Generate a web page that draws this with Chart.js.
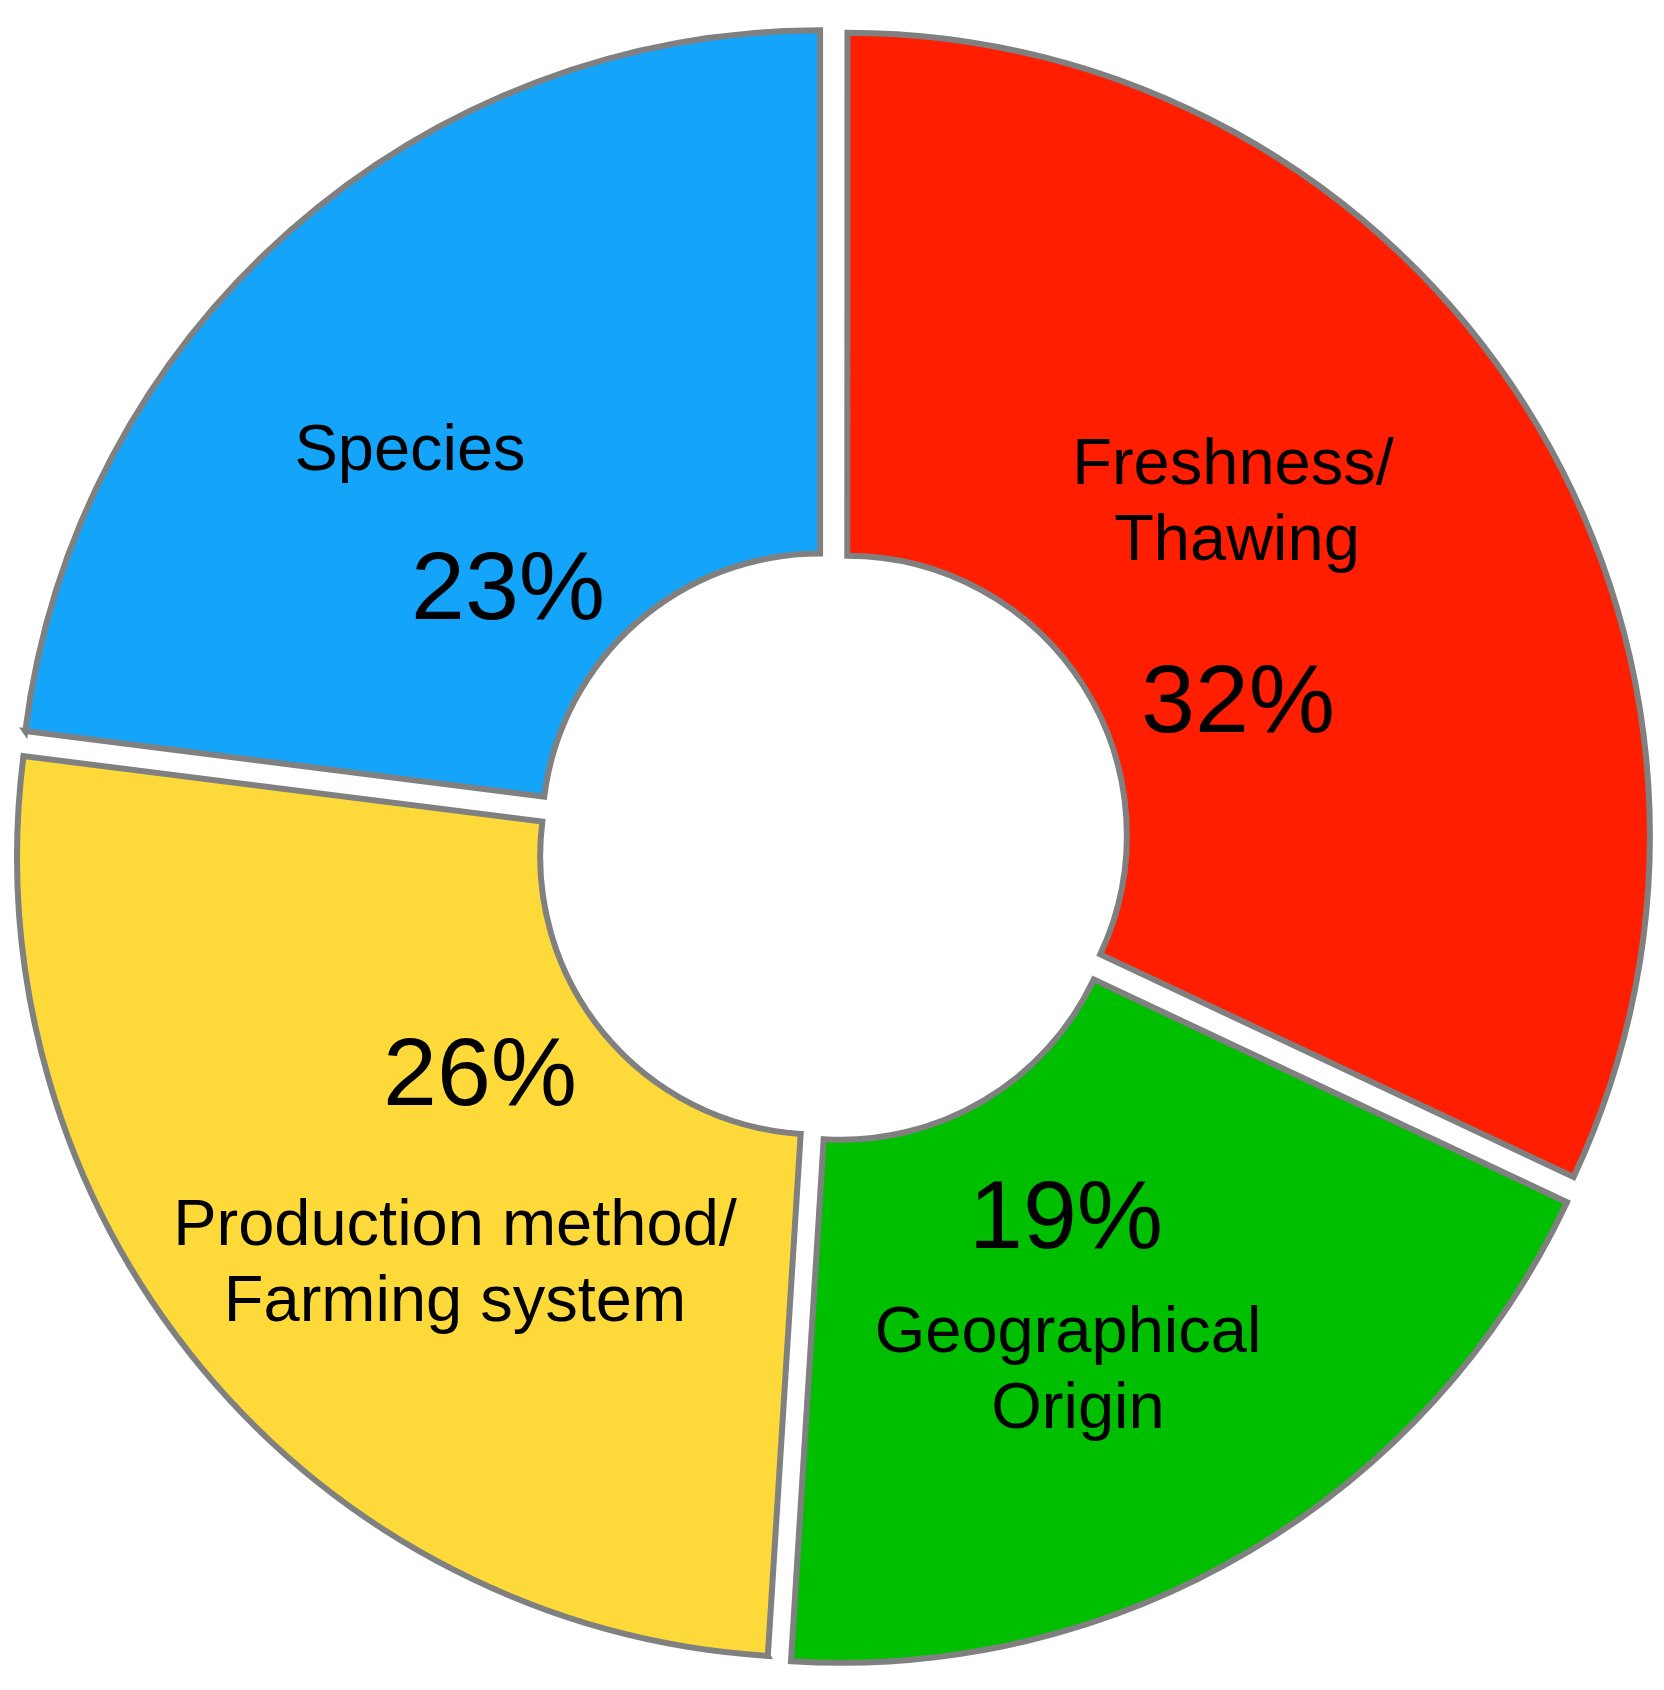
<!DOCTYPE html>
<html>
<head>
<meta charset="utf-8">
<script src="https://cdn.jsdelivr.net/npm/chart.js@4.4.1/dist/chart.umd.min.js"></script>
<style>
  html, body { margin: 0; padding: 0; background: #ffffff; }
  #wrap { width: 1664px; height: 1690px; }
</style>
</head>
<body>
<div id="wrap"><canvas id="c" width="1664" height="1690"></canvas></div>
<script>
// ---- data ----
const categories = ['Freshness/Thawing', 'Geographical Origin', 'Production method/Farming system', 'Species'];
const labelLines = [['Freshness/', 'Thawing'], ['Geographical', 'Origin'], ['Production method/', 'Farming system'], ['Species']];
const shares = [32, 19, 26, 23];
const pctLabels = shares.map(v => v + '%');

// ---- styles ----
const sliceColors = ['#FF1E00', '#00BE00', '#FDDA3A', '#14A5FA'];
// label placement relative to the chart centre: [nameX, nameBaselineY, pctX, pctBaselineY]
const labelLayout = [
  [401, -361, 406, -113],
  [236, 507, 234, 403],
  [-377, 400, -352, 260],
  [-422, -375, -324, -226]
];
// horizontal nudge of each name line
const lineNudge = [[0, 4], [0, 10], [0, 0], [0]];
const nameFont = '65px "Liberation Sans", Arial, sans-serif';
const pctFont = '97px "Liberation Sans", Arial, sans-serif';
const lineHeight = 76;

const sliceLabels = {
  id: 'sliceLabels',
  afterDatasetsDraw(chart) {
    const ctx = chart.ctx;
    const meta = chart.getDatasetMeta(0);
    ctx.save();
    ctx.fillStyle = '#000000';
    ctx.textAlign = 'center';
    ctx.textBaseline = 'alphabetic';
    meta.data.forEach((arc, i) => {
      const [nx, ny, px, py] = labelLayout[i];
      ctx.font = nameFont;
      labelLines[i].forEach((line, k) => {
        ctx.fillText(line, arc.x + nx + lineNudge[i][k], arc.y + ny + k * lineHeight);
      });
      ctx.font = pctFont;
      ctx.fillText(pctLabels[i], arc.x + px, arc.y + py);
    });
    ctx.restore();
  }
};

new Chart(document.getElementById('c'), {
  type: 'doughnut',
  data: {
    labels: categories,
    datasets: [{
      data: shares,
      backgroundColor: sliceColors,
      borderColor: '#808080',
      borderWidth: 6,
      borderJoinStyle: 'miter',
      offset: 72,
      hoverOffset: 0
    }]
  },
  options: {
    responsive: false,
    animation: false,
    radius: 801,
    cutout: '34.7%',
    rotation: 0,
    layout: { padding: 0 },
    plugins: {
      legend: { display: false },
      tooltip: { enabled: false },
      title: { display: false }
    },
    events: []
  },
  plugins: [sliceLabels]
});
</script>
</body>
</html>
